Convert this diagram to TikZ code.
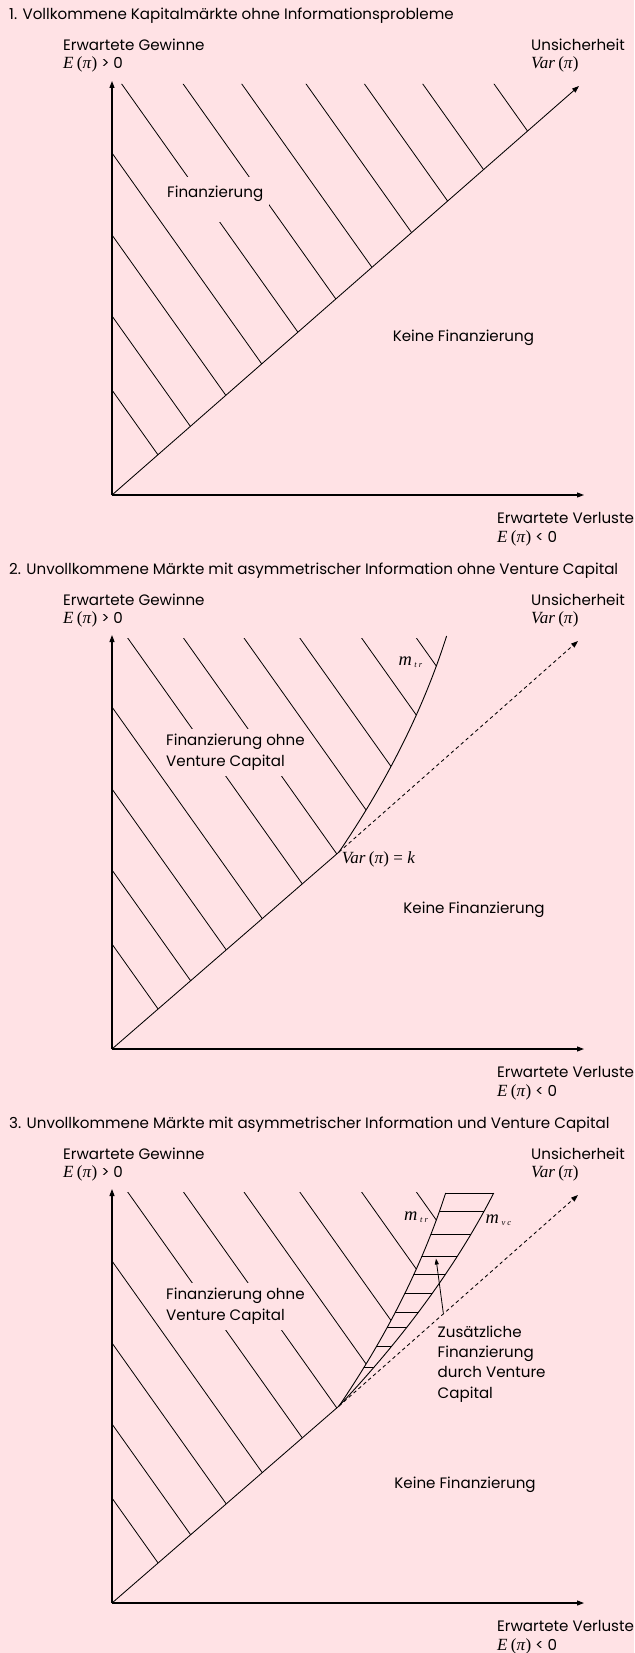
\documentclass[tikz,border=0pt]{standalone}
\usepackage{fontspec}
\setmainfont{Poppins}
\newfontfamily\tms{Liberation Serif}
\usetikzlibrary{arrows.meta}
\definecolor{bg}{RGB}{255,226,229}
\newlength\twid
\newcommand\tmsz{\tms\fontsize{\fsm}{20}\selectfont}
\newcommand\pilab[1]{{\tmsz\itshape #1}\hspace{0.22em}{\tmsz(\itshape π\/\upshape)}}
\newcommand\mlab[2]{{\tms\itshape\fontsize{\fmm}{20}\selectfont m}\hspace{2.5pt}\raisebox{-2pt}{\tms\itshape\fontsize{8.5}{9}\selectfont #1\hspace{2.2pt}#2}}
\begin{document}
\settowidth\twid{\fontsize{10}{12}\selectfont 2. Unvollkommene Märkte mit asymmetrischer Information ohne Venture Capital}
\pgfmathsetmacro\fs{10*609/\twid}
\pgfmathsetmacro\fsm{\fs*1.13}
\pgfmathsetmacro\fmm{\fs*1.22}
\begin{tikzpicture}[x=1pt,y=-1pt,line join=round]
\tikzset{
  txt/.style={font=\fontsize{\fs}{20}\selectfont, inner sep=0pt, anchor=base west},
  axis/.style={line width=1.05pt, -{Triangle[length=7pt,width=5pt]}},
  diagline/.style={line width=0.85pt},
  diagarrow/.style={line width=0.85pt, -{Triangle[length=7pt,width=5pt]}},
  dashline/.style={line width=0.85pt, dash pattern=on 3.5pt off 3pt, -{Triangle[length=7pt,width=5pt]}},
  hatch/.style={line width=0.8pt},
  hline/.style={line width=1pt},
  curve/.style={line width=0.9pt},
}
\fill[bg] (0,0) rectangle (634,1653);
\useasboundingbox (0,0) rectangle (634,1653);

% ================= Panel 1 =================
\begin{scope}
\coordinate (O1) at (112,495);
\coordinate (Y1) at (112,81);
\coordinate (X1) at (584,495);
\coordinate (D1) at (579,86);
\begin{scope}
  \clip (O1) -- (112,84) -- (581.3,84) -- cycle;
  \foreach \a in {-105.3,-52.7,4.8,63,121.7,183.2,241.8,306.1,364.5,422.8,494.1}
    \draw[hatch] (\a-7.1,74) -- ++(305.3,430);
\end{scope}
\fill[bg] (163,177) rectangle (268.5,222);
\node[txt] (fin1) at (167,198) {Finanzierung};
\draw[axis] (O1) -- (Y1);
\draw[axis] (O1) -- (X1);
\draw[diagarrow] (O1) -- (D1);
\node[txt] (t1) at (9,20) {1. Vollkommene Kapitalmärkte ohne Informationsprobleme};
\node[txt] (eg1) at (63,51) {Erwartete Gewinne};
\node[txt] (ep1) at (63,69) {\pilab{E} > 0};
\node[txt] (un1) at (531,51) {Unsicherheit};
\node[txt] (va1) at (531,69) {\pilab{Var}};
\node[txt] (ev1) at (497,523) {Erwartete Verluste};
\node[txt] (en1) at (497,542) {\pilab{E} < 0};
\node[txt, anchor=base] (kf1) at (463.4,341) {Keine Finanzierung};
\end{scope}

% ================= Panel 2 =================
\begin{scope}[shift={(0,554)}]
\coordinate (O2) at (112,495);
\coordinate (Y2) at (112,81);
\coordinate (X2) at (584,495);
\coordinate (J2) at (339,298);
\coordinate (D2) at (578,87);
\begin{scope}
  \clip (112,84) -- plot[domain=214:0,samples=40] ({339+0.6794*\x-0.000845*\x*\x},{298-\x}) -- (O2) -- cycle;
  \foreach \a in {-105.3,-52.7,4.8,63,127.7,183.5,244,299.8,361.6,416.4}
    \draw[hatch] (\a-7.1,74) -- ++(305.3,430);
\end{scope}
\fill[bg] (163,175) rectangle (308,222);
\node[txt] (fa2) at (166,191) {Finanzierung ohne};
\node[txt] (fb2) at (166,212) {Venture Capital};
\draw[curve] plot[domain=0:216,samples=50] ({339+0.6794*\x-0.000845*\x*\x},{298-\x});
\draw[diagline] (O2) -- (J2);
\draw[dashline] (J2) -- (D2);
\draw[axis] (O2) -- (Y2);
\draw[axis] (O2) -- (X2);
\node[txt] (mt2) at (398.3,111) {\mlab{t}{r}};
\node[txt] (vk2) at (341.6,309) {{\tmsz\itshape Var}\hspace{0.22em}{\tmsz(\itshape π\/\upshape) = \itshape k}};
\node[txt] (t2) at (9,20) {2. Unvollkommene Märkte mit asymmetrischer Information ohne Venture Capital};
\node[txt] (eg2) at (63,51) {Erwartete Gewinne};
\node[txt] (ep2) at (63,69) {\pilab{E} > 0};
\node[txt] (un2) at (531,51) {Unsicherheit};
\node[txt] (va2) at (531,69) {\pilab{Var}};
\node[txt] (ev2) at (497,523) {Erwartete Verluste};
\node[txt] (en2) at (497,542) {\pilab{E} < 0};
\node[txt, anchor=base] (kf2) at (474,359) {Keine Finanzierung};
\end{scope}

% ================= Panel 3 =================
\begin{scope}[shift={(0,1108)}]
\coordinate (O3) at (112,495);
\coordinate (Y3) at (112,81);
\coordinate (X3) at (584,495);
\coordinate (J3) at (339,298);
\coordinate (D3) at (578,87);
\coordinate (T3a) at (445.4,85);
\coordinate (T3b) at (493.4,85);
\coordinate (A3t) at (443.3,205);
\coordinate (A3h) at (436,150.5);
\begin{scope}
  \clip (112,84) -- plot[domain=214:0,samples=40] ({339+0.6794*\x-0.000845*\x*\x},{298-\x}) -- (O3) -- cycle;
  \foreach \a in {-105.3,-52.7,4.8,63,127.7,183.5,244,299.8,361.6,416.4}
    \draw[hatch] (\a-7.1,74) -- ++(305.3,430);
\end{scope}
\begin{scope}
  \clip plot[domain=0:213,samples=40] ({339+0.6794*\x-0.000845*\x*\x},{298-\x})
     -- plot[domain=213:0,samples=40] ({339+0.941*\x-0.001014*\x*\x},{298-\x}) -- cycle;
  \foreach \h in {103.7,126.3,148,166.3,185.3,204.3,219.3,238.7,259.7}
    \draw[hline] (320,\h) -- (510,\h);
\end{scope}
\draw[hline] (T3a) -- (T3b);
\fill[bg] (163,175) rectangle (308,222);
\node[txt] (fa3) at (166,191) {Finanzierung ohne};
\node[txt] (fb3) at (166,212) {Venture Capital};
\draw[curve] plot[domain=0:213,samples=50] ({339+0.6794*\x-0.000845*\x*\x},{298-\x});
\draw[curve] plot[domain=0:213,samples=50] ({339+0.941*\x-0.001014*\x*\x},{298-\x});
\draw[diagline] (O3) -- (J3);
\draw[dashline] (J3) -- (D3);
\draw[axis] (O3) -- (Y3);
\draw[axis] (O3) -- (X3);
\draw[line width=0.8pt, -{Triangle[length=6pt,width=4pt]}] (A3t) -- (A3h);
\node[txt] (mt3) at (404,112) {\mlab{t}{r}};
\node[txt] (mv3) at (485.5,115) {\mlab{v}{c}};
\node[txt] (z1) at (437.5,229.3) {Zusätzliche};
\node[txt] (z2) at (437.5,249.3) {Finanzierung};
\node[txt] (z3) at (437.5,269.7) {durch Venture};
\node[txt] (z4) at (437.5,290.3) {Capital};
\node[txt] (t3) at (9,20) {3. Unvollkommene Märkte mit asymmetrischer Information und Venture Capital};
\node[txt] (eg3) at (63,51) {Erwartete Gewinne};
\node[txt] (ep3) at (63,69) {\pilab{E} > 0};
\node[txt] (un3) at (531,51) {Unsicherheit};
\node[txt] (va3) at (531,69) {\pilab{Var}};
\node[txt] (ev3) at (497,523) {Erwartete Verluste};
\node[txt] (en3) at (497,542) {\pilab{E} < 0};
\node[txt, anchor=base] (kf3) at (465,380) {Keine Finanzierung};
\end{scope}
\end{tikzpicture}
\end{document}
